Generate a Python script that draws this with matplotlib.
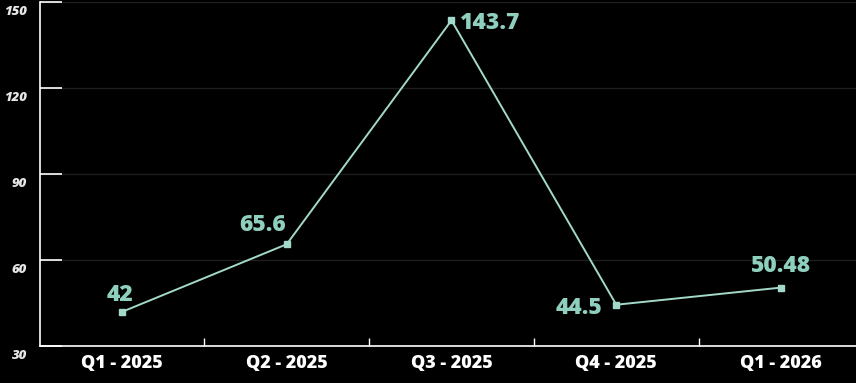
import matplotlib
matplotlib.use("Agg")
from matplotlib import pyplot as plt
from matplotlib.transforms import ScaledTranslation

quarters = ["Q1 - 2025", "Q2 - 2025", "Q3 - 2025", "Q4 - 2025", "Q1 - 2026"]
values = [42, 65.6, 143.7, 44.5, 50.48]
value_labels = ["42", "65.6", "143.7", "44.5", "50.48"]
y_ticks = [30, 60, 90, 120, 150]

W, H = 856, 383
LINE = "#a3d9ca"
LABEL = "#8fcfbe"
FONT = ["Open Sans", "DejaVu Sans"]

# label placement per point: (dx px, dy px, ha)
placement = [(-2, 20, "center"), (-24, 22, "center"), (8, 0, "left"),
             (-14, 0, "right"), (0, 25, "center")]


def main():
    fig = plt.figure(figsize=(W / 100, H / 100), dpi=100, facecolor="black")
    ax = fig.add_axes([39.5 / W, (H - 346.3) / H, 824 / W, 344 / H])
    ax.set_facecolor("black")

    x = list(range(len(quarters)))
    ax.plot(x, values, color=LINE, linewidth=1.4, marker="s",
            markersize=4.5, markerfacecolor=LINE, markeredgecolor=LINE,
            zorder=3, clip_on=False)

    for i, v in enumerate(values):
        dx, dy, ha = placement[i]
        ax.annotate(value_labels[i], (i, v), xytext=(dx * 0.72, dy * 0.72),
                    textcoords="offset points", ha=ha, va="center_baseline",
                    color=LABEL, fontsize=16.5, fontweight=800,
                    family=FONT, zorder=4)

    ax.set_xlim(-0.5, len(quarters) - 0.5)
    ax.set_ylim(30, 150)

    ax.set_xticks(x)
    ax.set_xticklabels(quarters, fontsize=13, fontweight=800, color="white",
                       family=FONT)
    ax.tick_params(axis="x", which="major", length=0, pad=6)
    ax.set_xticks([i + 0.5 for i in x[:-1]], minor=True)
    ax.tick_params(axis="x", which="minor", direction="in", length=5.5,
                   width=1, color="white")

    ax.set_yticks(y_ticks)
    ax.set_yticklabels([str(t) for t in y_ticks], fontsize=9.5,
                       fontweight=800, style="italic", color="#e6e6e6",
                       family=FONT)
    ax.tick_params(axis="y", direction="in", length=16, width=1.2,
                   color="white", pad=9)
    for lab in ax.get_yticklabels():
        lab.set_transform(lab.get_transform() +
                          ScaledTranslation(0, -0.08, fig.dpi_scale_trans))

    ax.grid(axis="y", color="#1e1e1e", linewidth=1)
    ax.set_axisbelow(True)

    for s in ["top", "right"]:
        ax.spines[s].set_visible(False)
    for s in ["left", "bottom"]:
        ax.spines[s].set_color("white")
        ax.spines[s].set_linewidth(1.2)

    fig.savefig("out.png", dpi=100, facecolor="black")


if __name__ == "__main__":
    main()
